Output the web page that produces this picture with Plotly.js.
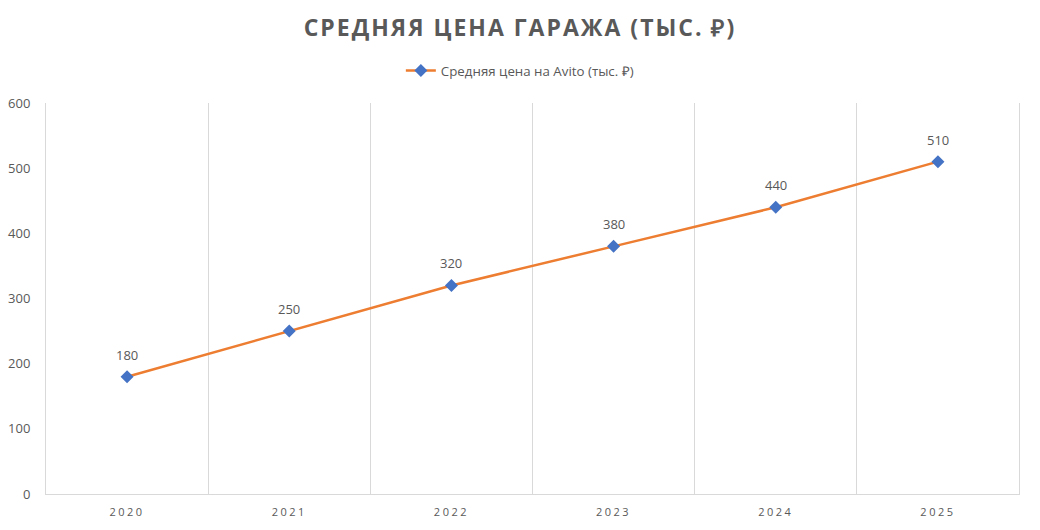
<!DOCTYPE html>
<html>
<head>
<meta charset="utf-8">
<script src="https://cdn.plot.ly/plotly-3.0.1.min.js"></script>
<style>
html, body { margin: 0; padding: 0; background: #fff; }
#chart { width: 1040px; height: 530px; }
.gtitle { letter-spacing: 2px; }
.xtick text { letter-spacing: 2.5px; }
</style>
</head>
<body>
<div id="chart"></div>
<script>
const years = ['2020', '2021', '2022', '2023', '2024', '2025'];
const prices = [180, 250, 320, 380, 440, 510];
const seriesName = 'Средняя цена на Avito (тыс. ₽)';
const chartTitle = 'СРЕДНЯЯ ЦЕНА ГАРАЖА (ТЫС. ₽)';
const yTicks = [0, 100, 200, 300, 400, 500, 600];

const textColor = '#595959';
const gridColor = '#d9d9d9';

const trace = {
  type: 'scatter',
  mode: 'lines+markers',
  x: years,
  y: prices,
  name: seriesName,
  line: { color: '#ED7D31', width: 2.5 },
  marker: { symbol: 'diamond', color: '#4472C4', size: 10 },
  hoverinfo: 'x+y'
};

const annotations = years.map((yr, i) => ({
  x: i, y: prices[i], xref: 'x', yref: 'y',
  text: String(prices[i]), showarrow: false,
  yshift: 22, font: { family: 'Open Sans, sans-serif', size: 13, color: textColor }
}));

const layout = {
  width: 1040, height: 530,
  paper_bgcolor: '#ffffff', plot_bgcolor: '#ffffff',
  margin: { l: 46, r: 21, t: 103, b: 36 },
  font: { family: 'Open Sans, sans-serif', color: textColor },
  title: {
    text: '<b>' + chartTitle + '</b>',
    x: 0.5, xref: 'container', xanchor: 'center',
    y: 1 - 28 / 530, yref: 'container', yanchor: 'middle',
    font: { family: 'Open Sans, sans-serif', size: 23, color: textColor }
  },
  showlegend: true,
  legend: {
    orientation: 'h', x: 0.487, xanchor: 'center', y: 1.082, yanchor: 'middle',
    font: { family: 'Open Sans, sans-serif', size: 13.3, color: textColor },
    itemwidth: 30
  },
  xaxis: {
    type: 'category',
    tickson: 'boundaries',
    showgrid: true, gridcolor: gridColor, gridwidth: 1,
    showline: true, linecolor: gridColor, linewidth: 1,
    ticks: '', ticklabelstandoff: 8,
    tickfont: { family: 'Open Sans, sans-serif', size: 11, color: textColor },
    range: [-0.5, 5.5],
    zeroline: false
  },
  yaxis: {
    range: [0, 600],
    tickvals: yTicks,
    showgrid: false, zeroline: false,
    showline: true, mirror: true, linecolor: gridColor, linewidth: 1,
    ticks: '', ticklabelstandoff: 12,
    tickfont: { family: 'Open Sans, sans-serif', size: 13, color: textColor }
  },
  annotations: annotations
};

Plotly.newPlot('chart', [trace], layout, { displayModeBar: false, staticPlot: true });
</script>
</body>
</html>
